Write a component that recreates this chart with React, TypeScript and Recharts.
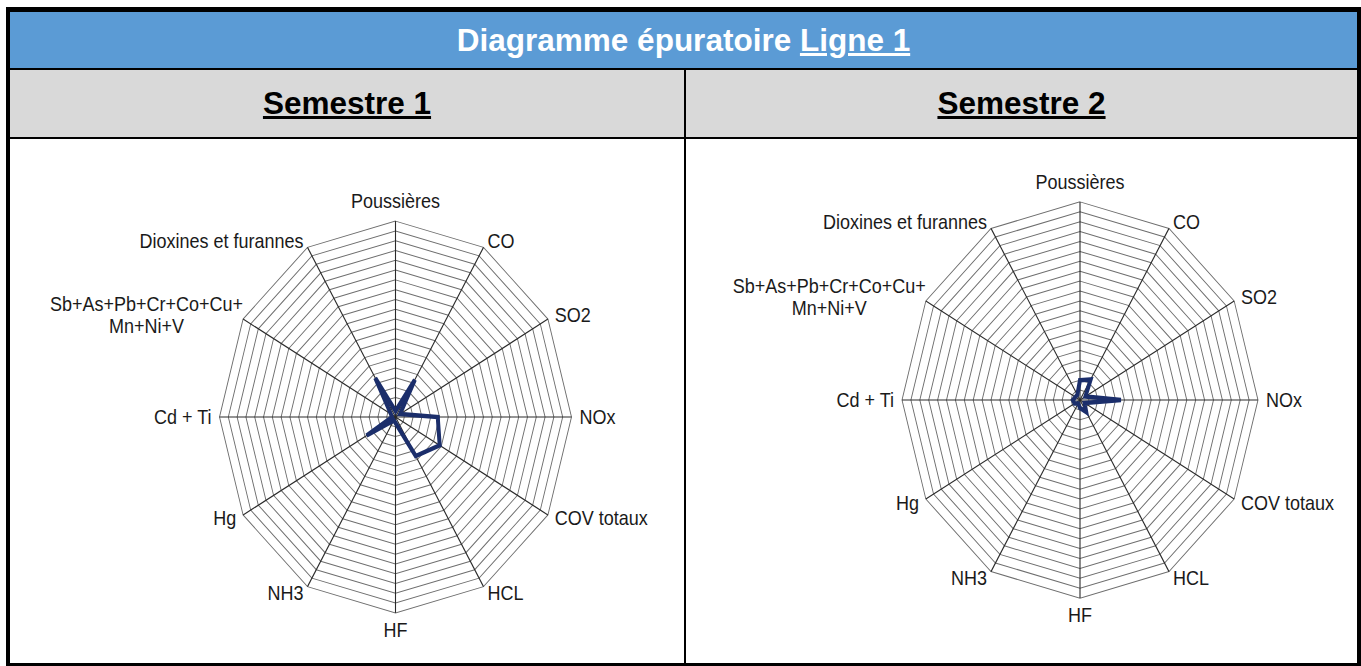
import { RadarChart, Radar, PolarGrid, PolarAngleAxis, PolarRadiusAxis } from 'recharts';

const AXES = [
  'Poussières',
  'CO',
  'SO2',
  'NOx',
  'COV totaux',
  'HCL',
  'HF',
  'NH3',
  'Hg',
  'Cd + Ti',
  'Sb+As+Pb+Cr+Co+Cu+\nMn+Ni+V',
  'Dioxines et furannes',
];

const SEMESTRE_1 = [3, 22, 3, 24, 29, 23, 3, 2, 19, 2, 3, 23];
const SEMESTRE_2 = [10, 12, 3.5, 23, 3, 7, 4, 2, 3.5, 4, 3, 3];

const RING_TICKS = [0, 5, 10, 15, 20, 25, 30, 35, 40, 45, 50, 55, 60, 65, 70, 75, 80, 85, 90, 95, 100];

const FONT = '"Liberation Sans", Arial, Helvetica, sans-serif';
const LINE_COLOR = '#1B2E6B';
const LABEL_SIZE = 18;
// the original picture is stretched vertically
const STRETCH = 1.113;

function makeTick(cx: number, cy: number) {
  return (props: any) => {
    const { x, y, payload } = props;
    const dx = x - cx;
    const dy = y - cy;
    const len = Math.hypot(dx, dy) || 1;
    const cos = dx / len;
    const sin = -dy / len;
    let anchor: 'start' | 'middle' | 'end' = 'middle';
    if (cos > 0.1) anchor = 'start';
    else if (cos < -0.1) anchor = 'end';
    const lines = String(payload.value).split('\n');
    let tx = x;
    let ty = y;
    if (anchor === 'middle') ty = y - sin * (sin > 0 ? 10 : 7.5);
    else ty = y + sin * 1.5;
    if (lines.length > 1) {
      // centred block, right edge next to the vertex
      const halfW = lines[0].length * LABEL_SIZE * 0.283;
      tx = x + 2 - halfW;
      return (
        <text x={tx} y={ty} textAnchor="middle" fontFamily={FONT} fontSize={LABEL_SIZE} fill="#1a1a1a">
          {lines.map((l, i) => (
            <tspan key={i} x={tx} y={ty + (i - (lines.length - 1) / 2) * 20} dominantBaseline="central">
              {l}
            </tspan>
          ))}
        </text>
      );
    }
    return (
      <text x={tx} y={ty} textAnchor={anchor} dominantBaseline="central" fontFamily={FONT} fontSize={LABEL_SIZE} fill="#1a1a1a">
        {lines[0]}
      </text>
    );
  };
}

interface SpiderProps {
  values: number[];
  left: number;
  top: number;
  width: number;
  height: number;
  cx: number;
  cy: number;
  radius: number;
}

function Spider({ values, left, top, width, height, cx, cy, radius }: SpiderProps) {
  const data = AXES.map((axe, i) => ({ axe, valeur: values[i] }));
  return (
    <div
      style={{
        position: 'absolute',
        left,
        top,
        width,
        height,
        transform: `scaleY(${STRETCH})`,
        transformOrigin: `${cx}px ${cy}px`,
      }}
    >
      <RadarChart
        width={width}
        height={height}
        data={data}
        cx={cx}
        cy={cy}
        outerRadius={radius}
        margin={{ top: 0, right: 0, bottom: 0, left: 0 }}
      >
        <PolarGrid gridType="polygon" radialLines={false} stroke="#6e6e6e" strokeWidth={0.9} />
        <PolarGrid gridType="polygon" polarRadius={[]} stroke="#2a2a2a" strokeWidth={1.1} />
        <PolarAngleAxis dataKey="axe" tick={makeTick(cx, cy)} tickLine={false} axisLine={false} />
        <PolarRadiusAxis domain={[0, 100]} ticks={RING_TICKS} tickCount={21} tick={false} axisLine={false} />
        <Radar
          dataKey="valeur"
          stroke={LINE_COLOR}
          strokeWidth={4}
          fill="none"
          fillOpacity={0}
          dot={false}
          isAnimationActive={false}
        />
      </RadarChart>
    </div>
  );
}

const headText = { fontFamily: FONT, fontWeight: 700, fontSize: 31.5 };

export default function App() {
  return (
    <div style={{ position: 'absolute', left: 0, top: 0, width: 1361, height: 666, background: '#fff', overflow: 'hidden' }}>
      {/* outer frame */}
      <div
        style={{
          position: 'absolute',
          left: 6,
          top: 7,
          width: 1355,
          height: 659,
          boxSizing: 'border-box',
          borderTop: '5px solid #000',
          borderLeft: '4px solid #000',
          borderRight: '4px solid #000',
          borderBottom: '3px solid #000',
        }}
      />
      {/* title row */}
      <div
        style={{
          position: 'absolute',
          left: 10,
          top: 12,
          width: 1347,
          height: 56,
          background: '#5B9BD5',
          display: 'flex',
          alignItems: 'center',
          justifyContent: 'center',
          color: '#fff',
          ...headText,
        }}
      >
        <span>
          Diagramme épuratoire <u>Ligne 1</u>
        </span>
      </div>
      <div style={{ position: 'absolute', left: 10, top: 68, width: 1347, height: 2, background: '#000' }} />
      {/* semester row */}
      <div
        style={{
          position: 'absolute',
          left: 10,
          top: 70,
          width: 674,
          height: 67,
          background: '#D9D9D9',
          display: 'flex',
          alignItems: 'center',
          justifyContent: 'center',
          color: '#000',
          ...headText,
        }}
      >
        <u>Semestre 1</u>
      </div>
      <div
        style={{
          position: 'absolute',
          left: 686,
          top: 70,
          width: 671,
          height: 67,
          background: '#D9D9D9',
          display: 'flex',
          alignItems: 'center',
          justifyContent: 'center',
          color: '#000',
          ...headText,
        }}
      >
        <u>Semestre 2</u>
      </div>
      <div style={{ position: 'absolute', left: 10, top: 137, width: 1347, height: 2, background: '#000' }} />
      <div style={{ position: 'absolute', left: 684, top: 70, width: 2, height: 593, background: '#000' }} />

      <Spider values={SEMESTRE_1} left={10} top={139} width={674} height={524} cx={385.5} cy={278} radius={176} />
      <Spider values={SEMESTRE_2} left={686} top={139} width={671} height={524} cx={394} cy={261} radius={178} />
    </div>
  );
}
